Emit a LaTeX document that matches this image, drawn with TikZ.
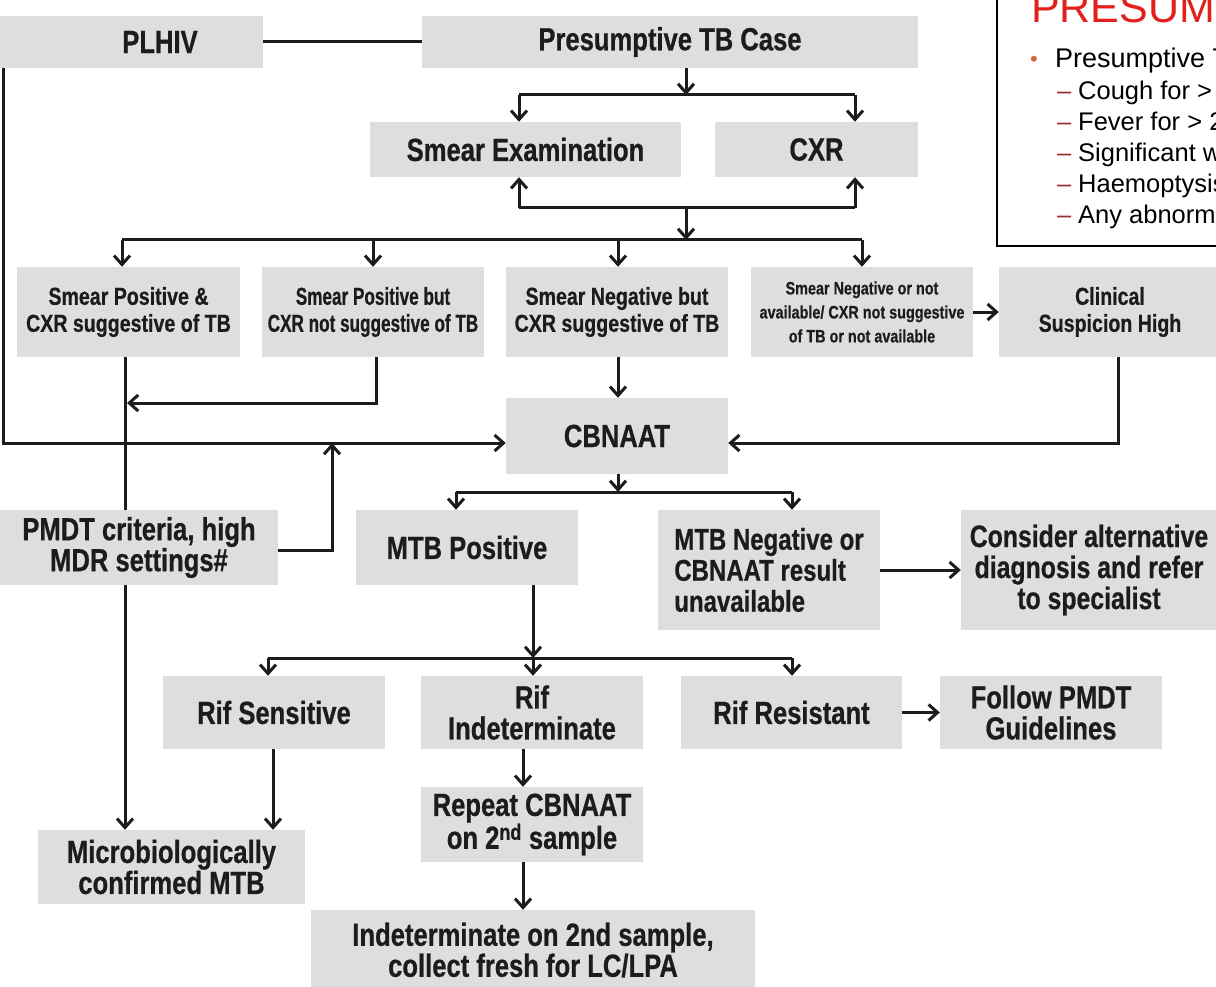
\documentclass[tikz,border=0pt]{standalone}
\usepackage{fontspec}
\usetikzlibrary{arrows.meta}
\newfontfamily\condfont[FakeStretch=0.8, BoldFeatures={FakeBold=0.6}]{Liberation Sans}
\newfontfamily\narrowfont[FakeStretch=0.7, BoldFeatures={FakeBold=0.6}]{Liberation Sans}
\newfontfamily\plainfont{Liberation Sans}
\definecolor{boxgray}{HTML}{DEDEDE}
\definecolor{ink}{HTML}{1C1C1C}
\definecolor{headred}{HTML}{E3211C}
\definecolor{bulletorange}{HTML}{D2673F}
\definecolor{dashred}{HTML}{9B2D2D}

\begin{document}
\begin{tikzpicture}[x=1pt,y=-1pt,
  box/.style={fill=boxgray, inner sep=0pt, text=ink, align=center},
  big/.style={font=\condfont\bfseries\fontsize{32}{31}\selectfont},
  mid/.style={font=\condfont\bfseries\fontsize{24.5}{27}\selectfont},
  midnarrow/.style={font=\narrowfont\bfseries\fontsize{24.5}{27}\selectfont},
  small/.style={font=\condfont\bfseries\fontsize{18}{24}\selectfont},
  link/.style={draw=ink, line width=3pt},
  arr/.style={link, -{Straight Barb[length=9pt,width=16pt]}},
  note/.style={anchor=base west, inner sep=0pt, text=black,
    font=\plainfont\fontsize{25.5}{30}\selectfont},
  dashmark/.style={anchor=base west, inner sep=0pt, text=dashred,
    font=\plainfont\fontsize{25.5}{30}\selectfont},
]
\useasboundingbox (0,0) rectangle (1216,987);
\clip (0,0) rectangle (1216,987);

% ---------- definition panel ----------
\draw[line width=2pt, fill=white] (997,-20) rectangle (1240,246);
\node[anchor=base west, inner sep=0pt, text=headred,
  font=\plainfont\fontsize{43}{43}\selectfont] (title) at (1031,23) {PRESUMPTIVE TB};
\node[anchor=base west, inner sep=0pt, text=bulletorange,
  font=\plainfont\fontsize{22}{22}\selectfont] (bul) at (1030,67) {\textbullet};
\node[note, font=\plainfont\fontsize{27}{30}\selectfont] (pdef) at (1055,68) {Presumptive TB};
\node[dashmark] (d1) at (1057,100) {–};
\node[note] (i1) at (1078,100) {Cough for > 2 weeks};
\node[dashmark] (d2) at (1057,131) {–};
\node[note] (i2) at (1078,131) {Fever for > 2 weeks};
\node[dashmark] (d3) at (1057,162) {–};
\node[note] (i3) at (1078,162) {Significant weight loss};
\node[dashmark] (d4) at (1057,193) {–};
\node[note] (i4) at (1078,193) {Haemoptysis};
\node[dashmark] (d5) at (1057,224) {–};
\node[note] (i5) at (1078,224) {Any abnormality in chest radiograph};

% ---------- boxes ----------
\node[box, big, minimum width=263pt, minimum height=52pt] (plhiv) at (131.5,42) {\hspace*{57pt}PLHIV};
\node[box, big, minimum width=496pt, minimum height=52pt] (ptb) at (670,42) {Presumptive TB Case};
\node[box, big, minimum width=311pt, minimum height=55pt] (smear) at (525.5,149.5) {Smear Examination};
\node[box, big, minimum width=203pt, minimum height=55pt] (cxr) at (816.5,149.5) {CXR};

\node[box, mid, minimum width=223pt, minimum height=90pt] (r1) at (128.5,312) {Smear Positive \&\\CXR suggestive of TB};
\node[box, midnarrow, minimum width=222pt, minimum height=90pt] (r2) at (373,312) {Smear Positive but\\CXR not suggestive of TB};
\node[box, mid, minimum width=222pt, minimum height=90pt] (r3) at (617,312) {Smear Negative but\\CXR suggestive of TB};
\node[box, small, minimum width=222pt, minimum height=90pt] (r4) at (862,312) {Smear Negative or not\\available/ CXR not suggestive\\of TB or not available};
\node[box, mid, minimum width=222pt, minimum height=90pt] (clin) at (1110,312) {Clinical\\Suspicion High};

\node[box, big, minimum width=222pt, minimum height=76pt] (cbnaat) at (617,436) {CBNAAT};
\node[box, big, minimum width=278pt, minimum height=75pt] (pmdt) at (139,547.5) {PMDT criteria, high\\MDR settings\#};
\node[box, big, minimum width=222pt, minimum height=75pt] (mtbpos) at (467,547.5) {MTB Positive};
\node[box, font=\condfont\bfseries\fontsize{30}{31}\selectfont, minimum width=222pt, minimum height=120pt, align=left] (mtbneg) at (769,570) {MTB Negative or\\CBNAAT result\\unavailable};
\node[box, font=\condfont\bfseries\fontsize{31}{31}\selectfont, minimum width=256pt, minimum height=120pt] (consider) at (1089,570) {Consider alternative\\diagnosis and refer\\to specialist};

\node[box, big, minimum width=222pt, minimum height=73pt] (rifs) at (274,712.5) {Rif Sensitive};
\node[box, big, minimum width=222pt, minimum height=73pt] (rifi) at (532,712.5) {Rif\\Indeterminate};
\node[box, big, minimum width=221pt, minimum height=73pt] (rifr) at (791.5,712.5) {Rif Resistant};
\node[box, big, minimum width=222pt, minimum height=73pt] (follow) at (1051,712.5) {Follow PMDT\\Guidelines};

\node[box, big, minimum width=267pt, minimum height=74pt] (micro) at (171.5,867) {Microbiologically\\confirmed MTB};
\node[box, big, minimum width=222pt, minimum height=75pt] (repeat) at (532,824.5) {Repeat CBNAAT\\on 2\textsuperscript{nd} sample};
\node[box, big, minimum width=444pt, minimum height=80pt] (indet) at (533,950) {Indeterminate on 2nd sample,\\collect fresh for LC/LPA};

% ---------- junction points ----------
\coordinate (s1) at (686,95);
\coordinate (s1L) at (519,95);
\coordinate (s1R) at (855,95);
\coordinate (s2) at (686,208);
\coordinate (s2L) at (519,208);
\coordinate (s2R) at (855,208);
\coordinate (s3) at (686,240);
\coordinate (s3a) at (122,240);
\coordinate (s3b) at (373,240);
\coordinate (s3c) at (618,240);
\coordinate (s3d) at (862,240);
\coordinate (colA) at (125,400);
\coordinate (k1) at (3,443);
\coordinate (k2) at (376,403);
\coordinate (k3) at (332,550);
\coordinate (k5) at (1118,443);
\coordinate (s4) at (618,492);
\coordinate (s4L) at (456,492);
\coordinate (s4R) at (792,492);
\coordinate (s5) at (533,658);
\coordinate (s5L) at (268,658);
\coordinate (s5R) at (792,658);
\coordinate (colB) at (273,790);
\coordinate (colC) at (523,800);

% ---------- connectors ----------
\draw[link] (plhiv.east) -- (ptb.west);

\draw[arr] (ptb.south -| s1) -- (s1);
\draw[link] (s1L) -- (s1R);
\draw[arr] (s1L) -- (s1L |- smear.north);
\draw[arr] (s1R) -- (s1R |- cxr.north);

\draw[link] (s2L) -- (s2R);
\draw[arr] (s2L) -- (s2L |- smear.south);
\draw[arr] (s2R) -- (s2R |- cxr.south);
\draw[arr] (s2) -- (s3);

\draw[link] (s3a) -- (s3d);
\draw[arr] (s3a) -- (s3a |- r1.north);
\draw[arr] (s3b) -- (s3b |- r2.north);
\draw[arr] (s3c) -- (s3c |- r3.north);
\draw[arr] (s3d) -- (s3d |- r4.north);

\draw[arr] (r4.east) -- (clin.west);

\draw[link] (colA |- r1.south) -- (colA |- pmdt.north);
\draw[arr] (colA |- pmdt.south) -- (colA |- micro.north);
\draw[arr] (k2 |- r2.south) -- (k2) -- ([xshift=2pt]colA |- k2);

\draw[arr] (k1 |- plhiv.south) -- (k1) -- (cbnaat.west |- k1);
\draw[arr] (pmdt.east |- k3) -- (k3) -- (k3 |- k1);
\draw[arr] (r3.south -| s3c) -- (s3c |- cbnaat.north);
\draw[arr] (k5 |- clin.south) -- (k5) -- (cbnaat.east |- k5);

\draw[arr] (cbnaat.south -| s4) -- (s4);
\draw[link] (s4L) -- (s4R);
\draw[arr] (s4L) -- (s4L |- mtbpos.north);
\draw[arr] (s4R) -- (s4R |- mtbneg.north);
\draw[arr] (mtbneg.east) -- (consider.west);

\draw[arr] (mtbpos.south -| s5) -- (s5);
\draw[link] (s5L) -- (s5R);
\draw[arr] (s5L) -- (s5L |- rifs.north);
\draw[arr] (s5) -- (s5 |- rifi.north);
\draw[arr] (s5R) -- (s5R |- rifr.north);
\draw[arr] (rifr.east) -- (follow.west);

\draw[arr] (colB |- rifs.south) -- (colB |- micro.north);
\draw[arr] (colC |- rifi.south) -- (colC |- repeat.north);
\draw[arr] (colC |- repeat.south) -- (colC |- indet.north);
\end{tikzpicture}
\end{document}
